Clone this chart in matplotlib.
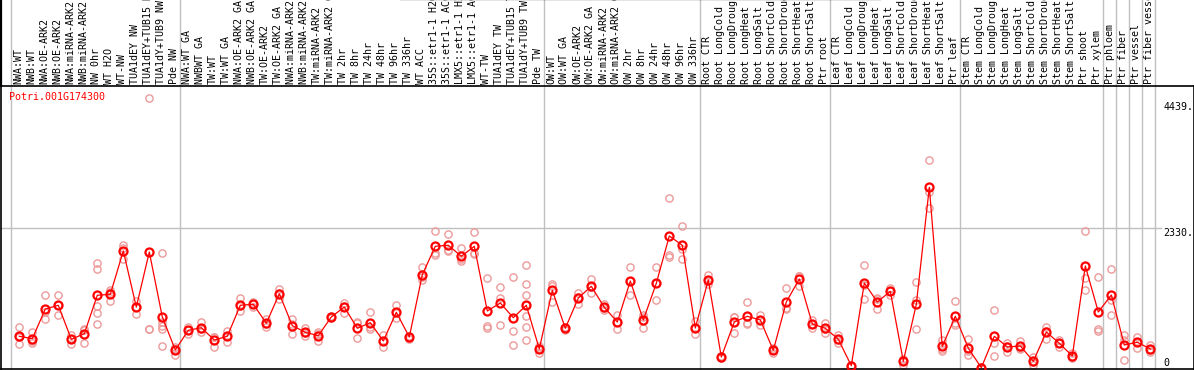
import matplotlib
matplotlib.use("Agg")
import matplotlib.pyplot as plt
from matplotlib.transforms import blended_transform_factory

# sample labels, one per column
labels = ["NWA:WT", "NWB:WT", "NWA:OE-ARK2", "NWB:OE-ARK2", "NWA:miRNA-ARK2", "NWB:miRNA-ARK2",
          "NW 0hr", "WT H2O", "WT-NW", "TUA1dEY NW", "TUA1dEY+TUB15 NW", "TUA1dY+TUB9 NW", "Pde NW",
          "NWA:WT GA", "NWBWT GA", "TW:WT", "TW:WT GA", "NWA:OE-ARK2 GA", "NWB:OE-ARK2 GA",
          "TW:OE-ARK2", "TW:OE-ARK2 GA", "NWA:miRNA-ARK2 GA", "NWB:miRNA-ARK2 GA", "TW:miRNA-ARK2",
          "TW:miRNA-ARK2 GA", "TW 2hr", "TW 8hr", "TW 24hr", "TW 48hr", "TW 96hr", "TW 336hr",
          "WT ACC", "35S::etr1-1 H2O", "35S::etr1-1 ACC", "LMX5::etr1-1 H2O", "LMX5::etr1-1 ACC",
          "WT-TW", "TUA1dEY TW", "TUA1dEY+TUB15 TW", "TUA1dY+TUB9 TW", "Pde TW",
          "OW:WT", "OW:WT GA", "OW:OE-ARK2", "OW:OE-ARK2 GA", "OW:miRNA-ARK2", "OW:miRNA-ARK2 GA",
          "OW 2hr", "OW 8hr", "OW 24hr", "OW 48hr", "OW 96hr", "OW 336hr",
          "Root CTR", "Root LongCold", "Root LongDrought", "Root LongHeat", "Root LongSalt",
          "Root ShortCold", "Root ShortDrought", "Root ShortHeat", "Root ShortSalt", "Ptr root",
          "Leaf CTR", "Leaf LongCold", "Leaf LongDrought", "Leaf LongHeat", "Leaf LongSalt",
          "Leaf ShortCold", "Leaf ShortDrought", "Leaf ShortHeat", "Leaf ShortSalt", "Ptr leaf",
          "Stem CTR", "Stem LongCold", "Stem LongDrought", "Stem LongHeat", "Stem LongSalt",
          "Stem ShortCold", "Stem ShortDrought", "Stem ShortHeat", "Stem ShortSalt", "Ptr shoot",
          "Ptr xylem", "Ptr phloem", "Ptr fiber", "Ptr vessel", "Ptr fiber vessel"]

# number of columns before each grey separator
group_breaks = [0, 13, 41, 53, 63, 73, 84, 85, 86, 87, 88]

# mean expression per sample
means = [529, 489, 984, 1046, 479, 572, 1213, 1229, 1952, 1017, 1935, 851, 300,
         629, 672, 467, 529, 1046, 1063, 746, 1239, 706, 595, 539, 851, 1017, 662, 756, 450,
         929, 517, 1556, 2030, 2047, 1863, 2030, 951, 1084, 839, 1046, 317,
         1296, 662, 1168, 1363, 1012, 767, 1451, 801, 1413, 2202, 2047, 667,
         1468, 183, 767, 862, 801, 295, 1101, 1485, 734, 662,
         479, 38, 1418, 1101, 1279, 112, 1063, 3014, 362, 862,
         329, 5, 529, 350, 367, 112, 600, 412, 200, 1701, 934,
         1218, 384, 429, 317]

# replicate values per sample
reps = [[684, 517, 400], [600, 450, 417], [1213, 929, 817], [1213, 1046, 879],
        [545, 484, 400], [656, 634, 422], [1746, 1646, 1034, 912, 734], [1301, 1268, 1118],
        [2052, 2007, 1818], [1118, 1017, 906], [4500, 651, 651], [1913, 767, 701, 651, 367],
        [350, 317, 217],
        [689, 634, 562], [772, 651, 600], [522, 517, 345], [622, 534, 429], [1168, 1034, 946],
        [1101, 1068, 1022], [812, 734, 689], [1313, 1251, 1146], [817, 734, 562], [667, 584, 534],
        [600, 567, 445], [867, 851, 834], [1089, 1034, 922], [767, 751, 495], [934, 689, 656],
        [545, 450, 345], [1046, 917, 829], [534, 517, 489], [1690, 1518, 1468], [2280, 1918, 1890],
        [2235, 1968, 1947], [1997, 1818, 1780], [2268, 1918, 1902], [1501, 701, 662],
        [1346, 1168, 712], [1513, 612, 384], [1713, 1396, 1213, 1056, 867, 684, 462],
        [367, 334, 255],
        [1401, 1368, 1106], [689, 667, 634], [1246, 1184, 1068], [1485, 1351, 1246],
        [1068, 1001, 967], [879, 767, 656], [1680, 1451, 1213], [889, 851, 667],
        [1680, 1418, 1134], [2831, 1885, 1846], [2364, 1980, 1813], [779, 667, 562],
        [1551, 1451, 1401], [200, 183, 167], [856, 851, 589], [1101, 746, 734], [889, 801, 722],
        [329, 300, 255], [1329, 1001, 979], [1540, 1535, 1368], [801, 734, 667], [746, 651, 589],
        [545, 467, 412], [50, 33, 33], [1718, 1384, 1151], [1168, 1151, 979], [1334, 1284, 1218],
        [150, 117, 55], [1434, 1134, 646], [3469, 2931, 2664], [467, 317, 289], [1118, 751, 722],
        [489, 284, 212], [17, 0, 0], [967, 412, 200], [412, 367, 262], [455, 334, 317],
        [188, 100, 45], [689, 617, 489], [467, 417, 345], [245, 183, 167], [2285, 1496, 1296],
        [1523, 646, 612],
        [1646, 1134, 884], [555, 467, 133], [512, 434, 329], [389, 300, 262]]

gene = "Potri.001G174300"
y_ticks = [4439, 2330, 0]
y_tick_labels = ["4439.", "2330.", "0"]

mono = "DejaVu Sans Mono"
red = "#ff0000"
pink = "#ec9a9a"
grey = "#c0c0c0"

fig = plt.figure(figsize=(11.94, 3.70), dpi=100)
# plot region: 1 px from the left, from y=86 px down to the bottom
ax = fig.add_axes([1 / 1194, 1 / 370, 1193 / 1194, 283 / 370])
ax.set_xlim(-1.408, 90.36)
ax.set_ylim(-17, 4704)
ax.set_xticks([])
ax.set_yticks([])
for side in ax.spines:
    ax.spines[side].set_color("black")
    ax.spines[side].set_linewidth(1.2)

# left border goes on up through the label area, top border only in the middle part
ax.axvline(-1.408, ymin=1, ymax=370 / 283, color="black", lw=1.6, clip_on=False)
ax.axhline(4704 * 370 / 283, xmin=0.335, xmax=0.737, color="black", lw=1.6, clip_on=False)

# grey separators, running up through the label area
for k in group_breaks:
    ax.axvline(k - 0.64, ymin=0, ymax=369 / 283, color=grey, lw=1, clip_on=False, zorder=0)

# horizontal grid line at the middle tick
ax.axhline(y_ticks[1], xmin=0, xmax=0.9723, color=grey, lw=1, zorder=0)

# replicates
for i, vals in enumerate(reps):
    ax.plot([i] * len(vals), vals, linestyle="none", marker="o", ms=5.2,
            mfc="none", mec=pink, mew=1.0, zorder=2)

# means joined by a line
ax.plot(range(len(means)), means, color=red, lw=0.9, marker="o", ms=5.8,
        mfc="none", mec=red, mew=1.6, zorder=3)

# column labels above the plot
trans = blended_transform_factory(ax.transData, ax.transAxes)
for i, lab in enumerate(labels):
    ax.text(i - 0.1, 1 + 2 / 283, lab, transform=trans, rotation=90, ha="center", va="bottom",
            family=mono, fontsize=7.2, color="black", clip_on=False)

# value labels on the right
for val, txt in zip(y_ticks, y_tick_labels):
    ax.text(88.0, val, txt, ha="left", va="top" if val > 0 else "bottom",
            family=mono, fontsize=7.2, color="black")

ax.text(8 / 1193, 1 - 11 / 283, gene, transform=ax.transAxes, ha="left", va="center",
        family=mono, fontsize=7.2, color=red)

fig.savefig("out.png", dpi=100)
